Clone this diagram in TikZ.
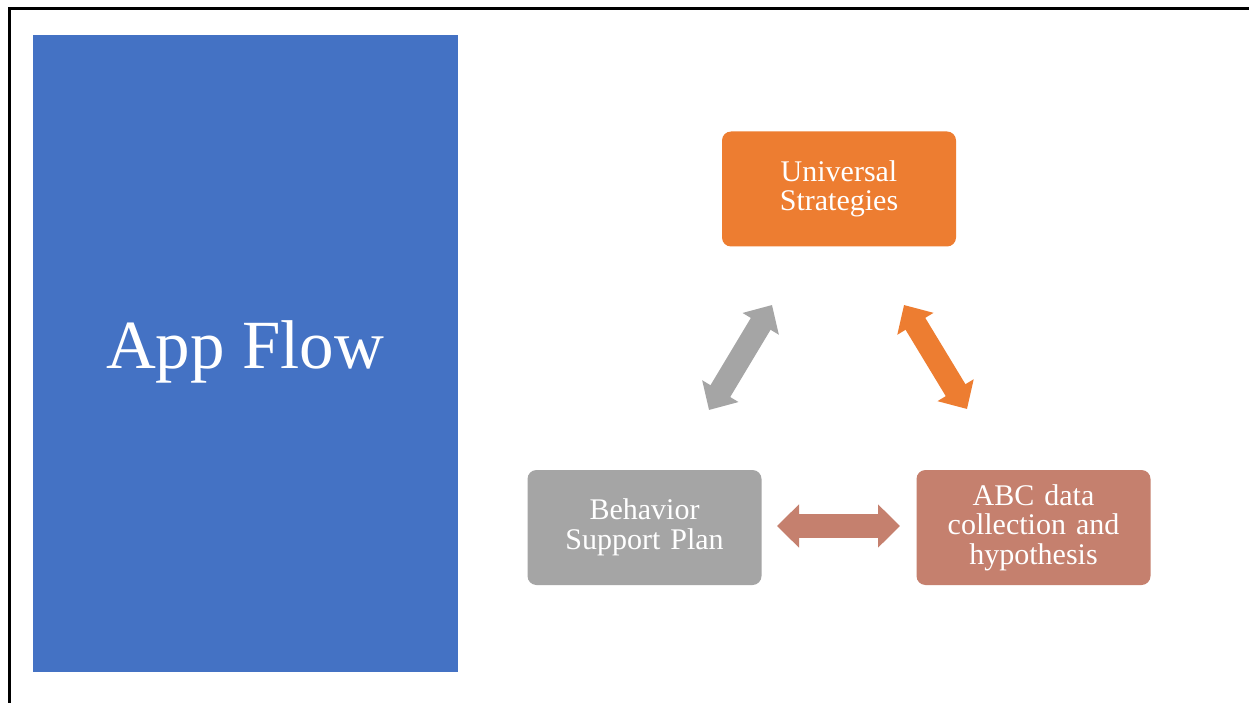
\documentclass[tikz,border=0pt]{standalone}
\usepackage{fontspec}
\setmainfont{Liberation Serif}
\usetikzlibrary{arrows.meta}
\definecolor{blueA}{HTML}{4472C4}
\definecolor{orangeA}{HTML}{ED7D31}
\definecolor{grayA}{HTML}{A5A5A5}
\definecolor{salmonA}{HTML}{C5806E}
\tikzset{
  box/.style={rounded corners=9pt, minimum width=234pt, minimum height=115pt, text width=225pt, align=center, text=white, font=\fontsize{30}{29.5}\selectfont, inner sep=0pt},
  blockarrow/.style={line width=23pt, {Triangle[length=22pt,width=41pt]}-{Triangle[length=22pt,width=41pt]}},
  frameline/.style={line width=3pt, black}
}
\begin{document}
\begin{tikzpicture}[x=1pt, y=-1pt]
\useasboundingbox (0,0) rectangle (1249,703);
\fill[white] (0,0) rectangle (1249,703);
% frame
\coordinate (fc) at (9,9);
\coordinate (fr) at (1249,9);
\coordinate (fb) at (9,703);
\draw[frameline] (fr) -- (fc) -- (fb);
% title panel
\fill[blueA] (33,35) rectangle (458,672);
\node[text=white, font=\fontsize{69}{72}\selectfont, inner sep=0pt] (title) at (245,352) {App Flow};
% boxes
\node[box, fill=orangeA] (us) at (839,189) {Universal\\Strategies};
\node[box, fill=grayA] (bsp) at (644.5,527.5) {Behavior\\Support Plan};
\node[box, fill=salmonA] (abc) at (1033.5,527.5) {ABC data\\collection and\\hypothesis};
% arrow end points
\coordinate (g1) at (709,410);
\coordinate (g2) at (772,305);
\coordinate (o1) at (904,305);
\coordinate (o2) at (967,409);
\coordinate (h1) at (777,526);
\coordinate (h2) at (900,526);
\draw[blockarrow, grayA] (g1) -- (g2);
\draw[blockarrow, orangeA] (o1) -- (o2);
\draw[blockarrow, salmonA, line width=24pt, {Triangle[length=22pt,width=42pt]}-{Triangle[length=22pt,width=42pt]}] (h1) -- (h2);
\end{tikzpicture}
\end{document}
